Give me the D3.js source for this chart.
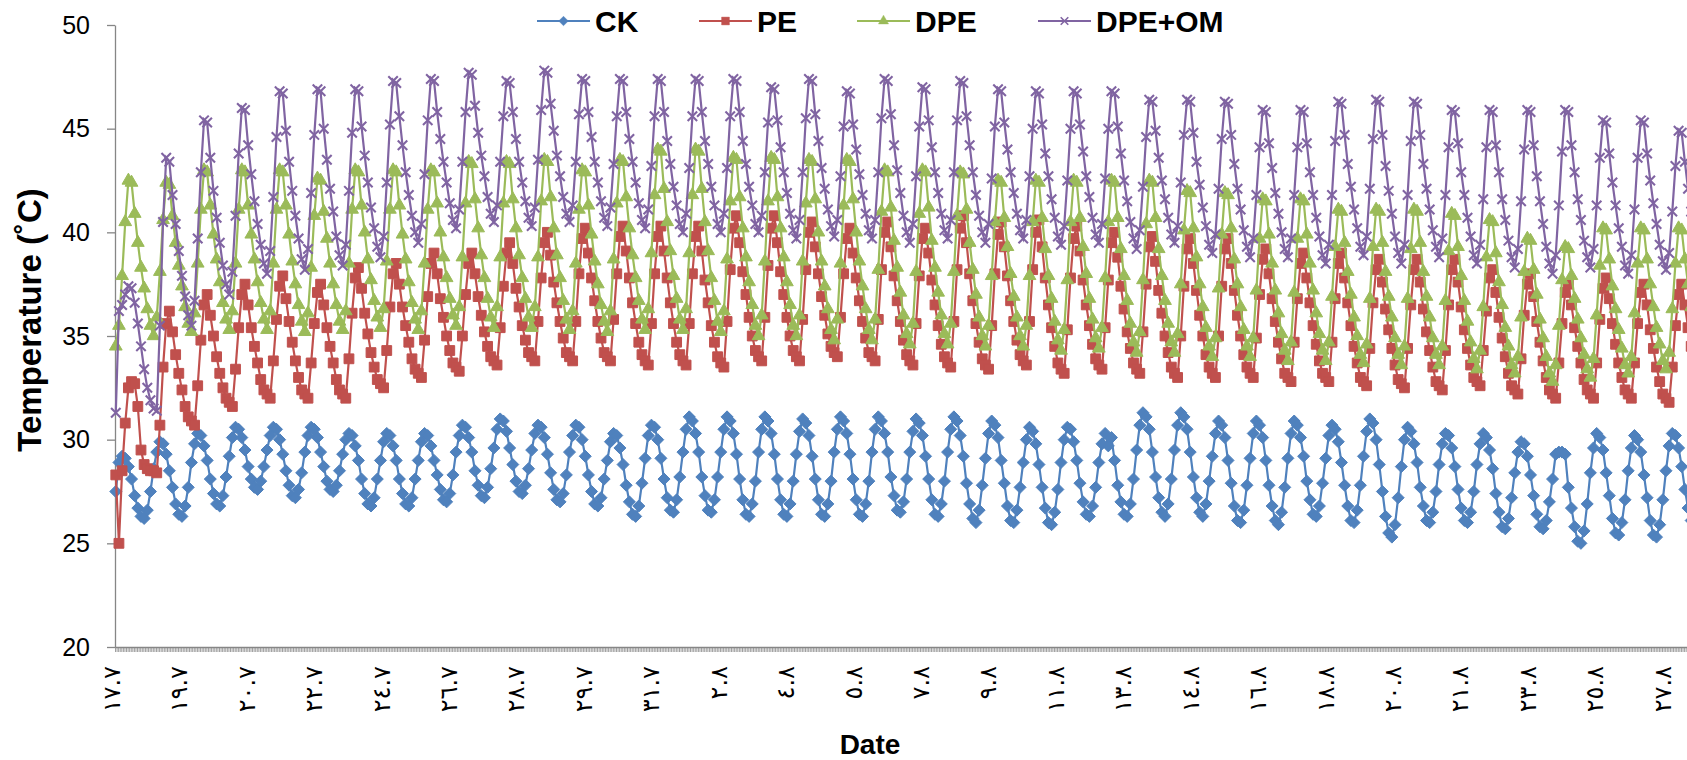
<!DOCTYPE html>
<html>
<head>
<meta charset="utf-8">
<script src="https://cdn.jsdelivr.net/npm/d3@7"></script>
<style>
  body { margin: 0; background: #fff; }
  svg { display: block; }
</style>
</head>
<body>
<svg width="1687" height="760"></svg>
<script>
// Soil temperature, one reading every 2 hours (12 per day), from 17.7 06:00
const stepHours = 2;

const ckTemps = [
  27.5, 28.9, 29.2, 29.1, 28.7, 28.1, 27.3, 26.7, 26.3, 26.2, 26.6, 27.5,
  28.6, 29.4, 29.9, 29.8, 29.3, 28.5, 27.7, 26.9, 26.4, 26.3, 26.8, 27.7,
  28.9, 29.8, 30.3, 30.2, 29.7, 29.0, 28.1, 27.4, 26.9, 26.8, 27.3, 28.2,
  29.2, 30.1, 30.6, 30.5, 30.1, 29.5, 28.7, 28.1, 27.7, 27.6, 28.0, 28.7,
  29.5, 30.2, 30.6, 30.5, 30.0, 29.3, 28.5, 27.8, 27.3, 27.2, 27.6, 28.4,
  29.4, 30.2, 30.6, 30.5, 30.1, 29.4, 28.7, 28.0, 27.6, 27.5, 27.8, 28.5,
  29.3, 30.0, 30.3, 30.2, 29.7, 29.0, 28.1, 27.4, 26.9, 26.8, 27.2, 28.1,
  29.0, 29.9, 30.3, 30.2, 29.7, 29.0, 28.1, 27.4, 26.9, 26.8, 27.2, 28.1,
  29.0, 29.9, 30.3, 30.2, 29.7, 29.0, 28.3, 27.6, 27.1, 27.0, 27.4, 28.3,
  29.4, 30.2, 30.7, 30.6, 30.1, 29.4, 28.5, 27.8, 27.3, 27.2, 27.7, 28.6,
  29.6, 30.5, 31.0, 30.9, 30.4, 29.6, 28.8, 28.0, 27.5, 27.4, 27.8, 28.6,
  29.5, 30.3, 30.7, 30.6, 30.1, 29.3, 28.4, 27.6, 27.1, 27.0, 27.4, 28.3,
  29.4, 30.2, 30.7, 30.6, 30.0, 29.2, 28.3, 27.5, 26.9, 26.8, 27.2, 28.1,
  29.0, 29.9, 30.3, 30.2, 29.6, 28.8, 27.8, 27.0, 26.4, 26.3, 26.8, 27.9,
  29.1, 30.2, 30.7, 30.6, 30.0, 29.1, 28.1, 27.2, 26.6, 26.5, 27.1, 28.2,
  29.4, 30.5, 31.1, 30.9, 30.3, 29.4, 28.2, 27.3, 26.6, 26.5, 27.1, 28.2,
  29.4, 30.5, 31.1, 30.9, 30.3, 29.3, 28.1, 27.1, 26.4, 26.3, 26.9, 28.0,
  29.4, 30.5, 31.1, 30.9, 30.3, 29.3, 28.1, 27.1, 26.4, 26.3, 26.9, 28.0,
  29.3, 30.4, 31.0, 30.8, 30.2, 29.2, 28.1, 27.1, 26.4, 26.3, 26.9, 28.0,
  29.4, 30.5, 31.1, 30.9, 30.3, 29.3, 28.1, 27.1, 26.4, 26.3, 26.9, 28.0,
  29.4, 30.5, 31.1, 30.9, 30.3, 29.4, 28.2, 27.3, 26.6, 26.5, 27.0, 28.1,
  29.4, 30.4, 31.0, 30.8, 30.2, 29.2, 28.1, 27.1, 26.4, 26.3, 26.9, 28.0,
  29.4, 30.5, 31.1, 30.9, 30.2, 29.2, 27.9, 26.9, 26.2, 26.0, 26.6, 27.8,
  29.1, 30.3, 30.9, 30.7, 30.1, 29.0, 27.9, 26.8, 26.1, 26.0, 26.6, 27.7,
  28.9, 30.0, 30.6, 30.4, 29.8, 28.8, 27.7, 26.7, 26.0, 25.9, 26.5, 27.6,
  28.9, 30.0, 30.6, 30.5, 29.9, 29.0, 27.9, 27.0, 26.4, 26.3, 26.8, 27.7,
  28.9, 29.8, 30.3, 29.7, 30.1, 29.0, 27.8, 27.0, 26.4, 26.3, 26.9, 28.1,
  29.5, 30.7, 31.3, 31.1, 30.5, 29.4, 28.2, 27.2, 26.5, 26.3, 26.9, 28.1,
  29.5, 30.7, 31.3, 31.1, 30.5, 29.4, 28.2, 27.2, 26.5, 26.3, 26.9, 28.0,
  29.2, 30.3, 30.9, 30.7, 30.1, 29.0, 27.9, 26.8, 26.1, 26.0, 26.6, 27.8,
  29.1, 30.3, 30.9, 30.7, 30.1, 29.0, 27.8, 26.8, 26.1, 25.9, 26.5, 27.7,
  29.1, 30.3, 30.9, 30.7, 30.1, 29.2, 28.0, 27.1, 26.4, 26.3, 26.8, 27.9,
  29.1, 30.2, 30.7, 30.5, 29.9, 28.9, 27.8, 26.8, 26.1, 26.0, 26.6, 27.8,
  29.2, 30.4, 31.0, 30.8, 30.0, 28.8, 27.5, 26.3, 25.5, 25.3, 25.9, 27.2,
  28.7, 30.0, 30.6, 30.4, 29.8, 28.9, 27.7, 26.8, 26.1, 26.0, 26.5, 27.5,
  28.8, 29.8, 30.3, 30.2, 29.6, 28.7, 27.6, 26.7, 26.1, 26.0, 26.5, 27.5,
  28.8, 29.8, 30.3, 30.1, 29.5, 28.6, 27.4, 26.5, 25.8, 25.7, 26.2, 27.2,
  28.4, 29.4, 29.9, 29.8, 29.2, 28.3, 27.3, 26.4, 25.8, 25.7, 26.1, 27.0,
  28.1, 29.3, 29.4, 29.4, 29.3, 27.7, 26.7, 25.8, 25.1, 25.0, 25.6, 26.9,
  28.4, 29.6, 30.3, 30.1, 29.5, 28.4, 27.3, 26.2, 25.5, 25.4, 26.0, 27.1,
  28.5, 29.6, 30.2, 30.0, 29.4, 28.3, 27.2, 26.1, 25.4, 25.3, 25.9, 27.1,
  28.5, 29.7, 30.3, 30.2, 29.6, 28.7, 27.6, 26.7, 26.1, 26.0, 26.5, 27.5
];

const peTemps = [
  28.3, 25.0, 28.5, 30.8, 32.5, 32.8, 32.7, 31.6, 29.5, 28.8, 28.6, 28.5,
  28.5, 28.4, 30.7, 33.5, 35.6, 36.2, 35.2, 34.1, 33.2, 32.4, 31.6, 31.1,
  30.9, 30.7, 32.6, 34.8, 36.5, 37.0, 36.0, 35.0, 34.0, 33.2, 32.5, 32.0,
  31.8, 31.6, 33.4, 35.4, 37.0, 37.5, 36.5, 35.4, 34.5, 33.7, 32.9, 32.4,
  32.2, 32.0, 33.8, 35.8, 37.4, 37.9, 36.8, 35.7, 34.7, 33.8, 33.0, 32.4,
  32.2, 32.0, 33.7, 35.6, 37.1, 37.5, 36.5, 35.4, 34.5, 33.7, 32.9, 32.4,
  32.2, 32.0, 33.9, 36.1, 37.8, 38.3, 37.3, 36.1, 35.1, 34.2, 33.5, 32.9,
  32.7, 32.5, 34.3, 36.4, 38.0, 38.5, 37.5, 36.4, 35.5, 34.7, 33.9, 33.4,
  33.2, 33.0, 34.8, 36.9, 38.5, 39.0, 38.0, 36.8, 35.9, 35.0, 34.3, 33.7,
  33.5, 33.3, 35.0, 37.0, 38.5, 39.0, 38.0, 36.9, 36.0, 35.2, 34.5, 34.0,
  33.8, 33.6, 35.4, 37.4, 39.0, 39.5, 38.5, 37.3, 36.4, 35.5, 34.8, 34.2,
  34.0, 33.8, 35.7, 37.8, 39.5, 40.0, 38.9, 37.6, 36.6, 35.7, 34.9, 34.2,
  34.0, 33.8, 35.7, 38.0, 39.7, 40.2, 39.0, 37.8, 36.7, 35.7, 34.9, 34.2,
  34.0, 33.8, 35.8, 38.0, 39.8, 40.3, 39.1, 37.8, 36.6, 35.6, 34.7, 34.1,
  33.8, 33.6, 35.6, 38.0, 39.8, 40.3, 39.1, 37.8, 36.6, 35.6, 34.7, 34.1,
  33.8, 33.6, 35.6, 38.0, 39.8, 40.3, 39.1, 37.7, 36.6, 35.5, 34.7, 34.0,
  33.7, 33.5, 35.7, 38.2, 40.2, 40.8, 39.5, 38.1, 37.0, 35.9, 35.0, 34.3,
  34.0, 33.8, 35.9, 38.4, 40.2, 40.8, 39.5, 38.1, 37.0, 35.9, 35.0, 34.3,
  34.0, 33.8, 35.8, 38.2, 40.0, 40.5, 39.3, 38.0, 36.9, 36.0, 35.1, 34.5,
  34.2, 34.0, 35.9, 38.0, 39.7, 40.2, 39.0, 37.8, 36.7, 35.7, 34.9, 34.2,
  34.0, 33.8, 35.8, 38.2, 40.0, 40.5, 39.3, 37.9, 36.7, 35.7, 34.8, 34.1,
  33.8, 33.6, 35.6, 37.9, 39.7, 40.2, 39.0, 37.7, 36.5, 35.5, 34.6, 34.0,
  33.7, 33.5, 35.7, 38.2, 40.2, 40.8, 39.5, 38.0, 36.7, 35.6, 34.7, 33.9,
  33.6, 33.4, 35.5, 38.0, 39.9, 40.5, 39.3, 37.9, 36.7, 35.7, 34.8, 34.1,
  33.8, 33.6, 35.7, 38.2, 40.0, 40.6, 39.3, 37.8, 36.5, 35.4, 34.5, 33.7,
  33.4, 33.2, 35.3, 37.8, 39.7, 40.3, 39.1, 37.7, 36.5, 35.5, 34.6, 33.9,
  33.6, 33.4, 35.4, 37.7, 39.5, 40.0, 38.8, 37.4, 36.3, 35.2, 34.4, 33.7,
  33.4, 33.2, 35.2, 37.5, 39.3, 39.8, 38.6, 37.2, 36.1, 35.0, 34.2, 33.5,
  33.2, 33.0, 35.0, 37.4, 39.2, 39.7, 38.5, 37.2, 36.0, 35.0, 34.1, 33.5,
  33.2, 33.0, 35.0, 37.4, 39.2, 39.7, 38.5, 37.2, 36.0, 35.0, 34.1, 33.5,
  33.2, 33.0, 34.9, 37.0, 38.7, 39.2, 38.0, 36.8, 35.7, 34.7, 33.9, 33.2,
  33.0, 32.8, 34.7, 36.8, 38.5, 39.0, 37.8, 36.6, 35.5, 34.6, 33.8, 33.2,
  33.0, 32.8, 34.7, 36.8, 38.5, 39.0, 37.8, 36.6, 35.5, 34.5, 33.7, 33.0,
  32.8, 32.6, 34.4, 36.6, 38.2, 38.7, 37.6, 36.3, 35.3, 34.4, 33.6, 32.9,
  32.7, 32.5, 34.4, 36.5, 38.2, 38.7, 37.6, 36.3, 35.2, 34.3, 33.5, 32.8,
  32.6, 32.4, 34.3, 36.5, 38.2, 38.7, 37.6, 36.4, 35.3, 34.4, 33.6, 33.0,
  32.8, 32.6, 34.3, 36.2, 37.8, 38.2, 37.1, 35.9, 34.9, 34.0, 33.2, 32.6,
  32.4, 32.2, 33.9, 36.0, 37.5, 38.0, 36.9, 35.7, 34.7, 33.8, 33.0, 32.4,
  32.2, 32.0, 33.7, 35.6, 37.1, 37.5, 36.5, 35.4, 34.5, 33.7, 32.9, 32.4,
  32.2, 32.0, 33.7, 35.8, 37.3, 37.8, 36.8, 35.6, 34.6, 33.7, 33.0, 32.4,
  32.2, 32.0, 33.7, 35.6, 37.1, 37.5, 36.5, 35.3, 34.4, 33.5, 32.8, 32.2,
  32.0, 31.8, 33.5, 35.5, 37.0, 37.5, 36.5, 35.4, 34.5, 33.7, 32.9, 32.4
];

const dpeTemps = [
  34.5, 35.5, 37.9, 40.5, 42.5, 42.4, 40.9, 39.5, 38.3, 37.3, 36.3, 35.5,
  35.0, 35.9, 38.1, 40.6, 42.4, 42.3, 40.8, 39.5, 38.4, 37.4, 36.4, 35.6,
  35.2, 36.1, 38.5, 41.1, 43.0, 42.9, 41.3, 39.9, 38.7, 37.6, 36.6, 35.8,
  35.3, 36.2, 38.5, 41.1, 43.0, 42.9, 41.3, 39.9, 38.7, 37.6, 36.6, 35.8,
  35.3, 36.2, 38.5, 41.1, 43.0, 42.9, 41.3, 39.9, 38.6, 37.5, 36.5, 35.7,
  35.2, 36.1, 38.3, 40.8, 42.6, 42.5, 41.0, 39.7, 38.5, 37.5, 36.5, 35.7,
  35.3, 36.2, 38.5, 41.1, 43.0, 42.9, 41.3, 40.0, 38.7, 37.7, 36.7, 35.9,
  35.4, 36.3, 38.6, 41.1, 43.0, 42.9, 41.3, 39.9, 38.7, 37.6, 36.6, 35.8,
  35.3, 36.2, 38.5, 41.1, 43.0, 42.9, 41.4, 40.0, 38.8, 37.8, 36.8, 36.0,
  35.5, 36.4, 38.8, 41.4, 43.4, 43.3, 41.6, 40.2, 38.9, 37.8, 36.8, 35.9,
  35.4, 36.4, 38.8, 41.4, 43.4, 43.3, 41.6, 40.2, 38.9, 37.8, 36.8, 35.9,
  35.4, 36.4, 38.8, 41.5, 43.5, 43.4, 41.7, 40.2, 38.9, 37.8, 36.7, 35.8,
  35.3, 36.2, 38.5, 41.1, 43.0, 42.9, 41.3, 39.9, 38.6, 37.5, 36.5, 35.7,
  35.2, 36.2, 38.7, 41.4, 43.5, 43.4, 41.7, 40.2, 38.9, 37.8, 36.7, 35.8,
  35.3, 36.3, 39.0, 41.8, 44.0, 43.9, 42.1, 40.5, 39.1, 37.9, 36.8, 35.8,
  35.3, 36.3, 39.0, 41.8, 44.0, 43.9, 42.1, 40.5, 39.1, 37.8, 36.7, 35.7,
  35.2, 36.2, 38.7, 41.5, 43.6, 43.5, 41.7, 40.2, 38.8, 37.6, 36.5, 35.5,
  35.0, 36.0, 38.6, 41.5, 43.6, 43.5, 41.7, 40.2, 38.8, 37.6, 36.5, 35.5,
  35.0, 36.0, 38.6, 41.4, 43.5, 43.4, 41.6, 40.0, 38.6, 37.4, 36.3, 35.3,
  34.8, 35.8, 38.5, 41.3, 43.5, 43.4, 41.6, 40.0, 38.6, 37.4, 36.3, 35.3,
  34.8, 35.8, 38.2, 41.0, 43.0, 42.9, 41.2, 39.6, 38.3, 37.1, 36.0, 35.1,
  34.6, 35.6, 38.1, 40.9, 43.0, 42.9, 41.2, 39.6, 38.3, 37.1, 36.0, 35.1,
  34.6, 35.6, 38.1, 40.8, 42.9, 42.8, 41.1, 39.5, 38.2, 37.0, 35.9, 35.0,
  34.5, 35.5, 37.9, 40.5, 42.5, 42.4, 40.7, 39.3, 38.0, 36.9, 35.9, 35.0,
  34.5, 35.5, 37.9, 40.5, 42.5, 42.4, 40.7, 39.2, 37.9, 36.8, 35.7, 34.8,
  34.3, 35.3, 37.7, 40.5, 42.5, 42.4, 40.7, 39.3, 38.0, 36.8, 35.8, 34.9,
  34.4, 35.4, 37.8, 40.5, 42.5, 42.4, 40.7, 39.2, 37.9, 36.7, 35.6, 34.7,
  34.2, 35.2, 37.7, 40.4, 42.5, 42.4, 40.7, 39.2, 37.9, 36.7, 35.6, 34.7,
  34.2, 35.1, 37.5, 40.1, 42.0, 41.9, 40.2, 38.8, 37.5, 36.4, 35.4, 34.5,
  34.0, 34.9, 37.3, 39.9, 41.9, 41.8, 40.2, 38.7, 37.5, 36.4, 35.3, 34.5,
  34.0, 34.9, 37.2, 39.7, 41.6, 41.5, 39.9, 38.5, 37.2, 36.1, 35.1, 34.3,
  33.8, 34.7, 37.1, 39.7, 41.6, 41.5, 39.9, 38.5, 37.2, 36.1, 35.1, 34.3,
  33.8, 34.7, 36.9, 39.3, 41.1, 41.0, 39.5, 38.1, 37.0, 35.9, 35.0, 34.1,
  33.7, 34.6, 36.8, 39.3, 41.1, 41.0, 39.5, 38.1, 36.9, 35.9, 34.9, 34.1,
  33.6, 34.5, 36.8, 39.2, 41.1, 41.0, 39.5, 38.1, 36.9, 35.9, 34.9, 34.1,
  33.6, 34.5, 36.7, 39.1, 40.9, 40.8, 39.3, 37.9, 36.7, 35.7, 34.7, 33.9,
  33.4, 34.3, 36.4, 38.8, 40.6, 40.5, 39.0, 37.6, 36.5, 35.4, 34.5, 33.6,
  33.2, 34.0, 35.9, 38.1, 39.7, 39.6, 38.2, 37.0, 35.8, 34.9, 34.0, 33.2,
  32.8, 33.6, 35.5, 37.7, 39.3, 39.2, 37.9, 36.8, 35.8, 34.9, 34.1, 33.4,
  33.0, 33.9, 36.0, 38.4, 40.2, 40.1, 38.7, 37.4, 36.3, 35.3, 34.4, 33.6,
  33.2, 34.0, 36.1, 38.5, 40.2, 40.1, 38.7, 37.5, 36.4, 35.4, 34.6, 33.8,
  33.4, 34.2, 36.3, 38.5, 40.2, 40.1, 38.7, 37.5, 36.4, 35.4, 34.6, 33.8
];

const dpeOmTemps = [
  31.3, 36.2, 36.5, 37.0, 37.4, 37.3, 36.6, 35.6, 34.5, 33.4, 32.5, 31.9,
  31.5, 31.4, 35.5, 40.5, 43.6, 43.4, 41.8, 40.4, 39.1, 37.9, 36.9, 36.0,
  35.5, 36.7, 39.7, 42.9, 45.4, 45.3, 43.6, 42.0, 40.7, 39.5, 38.4, 37.5,
  37.0, 38.1, 40.8, 43.8, 46.0, 45.9, 44.2, 42.8, 41.5, 40.4, 39.4, 38.5,
  38.0, 39.1, 41.7, 44.6, 46.8, 46.7, 44.9, 43.4, 42.0, 40.8, 39.7, 38.7,
  38.2, 39.2, 41.9, 44.7, 46.9, 46.8, 45.0, 43.5, 42.1, 41.0, 39.8, 38.9,
  38.4, 39.4, 42.0, 44.8, 46.9, 46.8, 45.1, 43.7, 42.4, 41.2, 40.2, 39.3,
  38.8, 39.8, 42.4, 45.2, 47.3, 47.2, 45.6, 44.2, 42.9, 41.8, 40.8, 40.0,
  39.5, 40.4, 42.8, 45.4, 47.4, 47.3, 45.8, 44.5, 43.4, 42.4, 41.4, 40.6,
  40.2, 41.1, 43.4, 45.8, 47.7, 47.6, 46.1, 44.8, 43.7, 42.7, 41.7, 40.9,
  40.5, 41.3, 43.4, 45.6, 47.3, 47.2, 45.8, 44.5, 43.4, 42.4, 41.5, 40.7,
  40.3, 41.2, 43.5, 45.9, 47.8, 47.7, 46.2, 44.9, 43.7, 42.7, 41.7, 40.9,
  40.5, 41.3, 43.4, 45.7, 47.4, 47.3, 45.8, 44.6, 43.4, 42.4, 41.5, 40.7,
  40.3, 41.2, 43.3, 45.6, 47.4, 47.3, 45.8, 44.5, 43.4, 42.4, 41.4, 40.6,
  40.2, 41.1, 43.2, 45.6, 47.4, 47.3, 45.8, 44.4, 43.3, 42.2, 41.3, 40.4,
  40.0, 40.9, 43.1, 45.6, 47.4, 47.3, 45.8, 44.4, 43.3, 42.2, 41.3, 40.4,
  40.0, 40.9, 43.1, 45.6, 47.4, 47.3, 45.8, 44.4, 43.3, 42.2, 41.3, 40.4,
  40.0, 40.8, 42.9, 45.3, 47.0, 46.9, 45.4, 44.1, 42.9, 41.9, 40.9, 40.1,
  39.7, 40.6, 42.9, 45.5, 47.4, 47.3, 45.7, 44.4, 43.1, 42.1, 41.1, 40.3,
  39.8, 40.6, 42.7, 45.1, 46.8, 46.7, 45.2, 44.0, 42.8, 41.8, 40.9, 40.1,
  39.7, 40.6, 42.9, 45.5, 47.4, 47.3, 45.7, 44.2, 43.0, 41.9, 40.8, 40.0,
  39.5, 40.4, 42.7, 45.1, 47.0, 46.9, 45.4, 44.1, 42.9, 41.9, 40.9, 40.1,
  39.7, 40.6, 42.9, 45.4, 47.3, 47.2, 45.6, 44.2, 42.9, 41.8, 40.8, 40.0,
  39.5, 40.4, 42.6, 45.1, 46.9, 46.8, 45.3, 44.0, 42.9, 41.9, 40.9, 40.1,
  39.7, 40.6, 42.7, 45.0, 46.8, 46.7, 45.2, 43.8, 42.7, 41.6, 40.7, 39.8,
  39.4, 40.3, 42.5, 45.0, 46.8, 46.7, 45.2, 43.9, 42.7, 41.7, 40.7, 39.9,
  39.5, 40.4, 42.6, 45.0, 46.8, 46.7, 45.1, 43.8, 42.5, 41.5, 40.5, 39.7,
  39.2, 40.1, 42.2, 44.6, 46.4, 46.3, 44.9, 43.6, 42.5, 41.6, 40.7, 39.9,
  39.5, 40.3, 42.4, 44.7, 46.4, 46.3, 44.8, 43.4, 42.3, 41.2, 40.3, 39.4,
  39.0, 39.9, 42.1, 44.5, 46.3, 46.2, 44.7, 43.3, 42.1, 41.1, 40.1, 39.3,
  38.8, 39.7, 41.8, 44.1, 45.9, 45.8, 44.3, 43.1, 41.9, 40.9, 40.0, 39.2,
  38.8, 39.7, 41.8, 44.1, 45.9, 45.8, 44.3, 42.9, 41.8, 40.7, 39.8, 38.9,
  38.5, 39.4, 41.8, 44.4, 46.3, 46.2, 44.7, 43.3, 42.2, 41.1, 40.2, 39.3,
  38.9, 39.8, 42.1, 44.5, 46.4, 46.3, 44.7, 43.2, 42.0, 40.9, 39.8, 39.0,
  38.5, 39.4, 41.8, 44.4, 46.3, 46.2, 44.7, 43.3, 42.1, 41.1, 40.1, 39.3,
  38.8, 39.7, 41.8, 44.1, 45.9, 45.8, 44.3, 42.9, 41.8, 40.7, 39.8, 38.9,
  38.5, 39.4, 41.6, 44.1, 45.9, 45.8, 44.2, 42.9, 41.6, 40.6, 39.6, 38.8,
  38.3, 39.2, 41.5, 44.0, 45.9, 45.8, 44.2, 42.7, 41.5, 40.4, 39.3, 38.5,
  38.0, 38.9, 41.3, 43.9, 45.9, 45.8, 44.2, 42.9, 41.6, 40.6, 39.6, 38.8,
  38.3, 39.2, 41.3, 43.6, 45.4, 45.3, 43.8, 42.4, 41.3, 40.2, 39.3, 38.4,
  38.0, 38.9, 41.1, 43.6, 45.4, 45.3, 43.8, 42.5, 41.4, 40.4, 39.4, 38.6,
  38.2, 39.0, 41.0, 43.2, 44.9, 44.8, 43.4, 42.1, 41.0, 40.1, 39.2, 38.4
];

// date labels shown on the category axis (one every ~42.8 hours)
const dateLabels = ["١٧.٧", "١٩.٧", "٢٠.٧", "٢٢.٧", "٢٤.٧", "٢٦.٧", "٢٨.٧", "٢٩.٧",
  "٣١.٧", "٢.٨", "٤.٨", "٥.٨", "٧.٨", "٩.٨", "١١.٨", "١٣.٨", "١٤.٨", "١٦.٨",
  "١٨.٨", "٢٠.٨", "٢١.٨", "٢٣.٨", "٢٥.٨", "٢٧.٨"];
const labelStepHours = 42.8;
const yTicks = [20, 25, 30, 35, 40, 45, 50];

const seriesNames = ["CK", "PE", "DPE", "DPE+OM"];
const seriesColors = ["#4F81BD", "#C0504D", "#9BBB59", "#8064A2"];

// custom marker shapes
const symDiamond = { draw(ctx, size) { const r = Math.sqrt(size / 2); ctx.moveTo(0, -r); ctx.lineTo(r, 0); ctx.lineTo(0, r); ctx.lineTo(-r, 0); ctx.closePath(); } };
const symTimes = { draw(ctx, size) { const r = Math.sqrt(size) / 2; ctx.moveTo(-r, -r); ctx.lineTo(r, r); ctx.moveTo(r, -r); ctx.lineTo(-r, r); } };

const series = [
  { name: seriesNames[0], values: ckTemps, color: seriesColors[0], symbol: d3.symbol(symDiamond, 72)(), fill: true },
  { name: seriesNames[1], values: peTemps, color: seriesColors[1], symbol: d3.symbol(d3.symbolSquare, 96)(), fill: true },
  { name: seriesNames[2], values: dpeTemps, color: seriesColors[2], symbol: d3.symbol(d3.symbolTriangle, 70)(), fill: true },
  { name: seriesNames[3], values: dpeOmTemps, color: seriesColors[3], symbol: d3.symbol(symTimes, 90)(), fill: false }
];

const svg = d3.select("svg");
const axisGray = "#868686";
const font = "'Liberation Sans', Arial, sans-serif";
const plot = { left: 115, top: 25, bottom: 647 };
const pxPerHour = 1.5754;
const totalHours = ckTemps.length * stepHours;

const x = d3.scaleLinear()
    .domain([-0.5, totalHours - 0.5])
    .range([plot.left, plot.left + totalHours * pxPerHour]);
const y = d3.scaleLinear().domain([20, 50]).range([plot.bottom, plot.top]);

// y axis
const yAxis = svg.append("g")
    .attr("transform", `translate(${plot.left},0)`)
    .call(d3.axisLeft(y).tickValues(yTicks).tickSize(8).tickSizeOuter(0).tickPadding(17));
yAxis.select(".domain").attr("stroke", axisGray).attr("stroke-width", 1.3);
yAxis.selectAll(".tick line").attr("stroke", axisGray).attr("stroke-width", 1.3);
yAxis.selectAll("text").attr("font-family", font).attr("font-size", 25).attr("fill", "#000");

// x axis: one small tick per hour
const xAxis = svg.append("g")
    .attr("transform", `translate(0,${plot.bottom})`)
    .call(d3.axisBottom(x).tickValues(d3.range(-0.5, totalHours, 1)).tickSize(5).tickSizeOuter(0).tickFormat(""));
xAxis.select(".domain").attr("stroke", axisGray).attr("stroke-width", 1.3);
xAxis.selectAll(".tick line").attr("stroke", axisGray).attr("stroke-width", 0.8);

// date labels
const labelAxis = svg.append("g")
    .attr("transform", `translate(0,${plot.bottom})`)
    .call(d3.axisBottom(x)
        .tickValues(dateLabels.map((d, i) => i * labelStepHours))
        .tickFormat((d, i) => dateLabels[i])
        .tickSize(0).tickPadding(0));
labelAxis.select(".domain").remove();
labelAxis.selectAll("text")
    .attr("transform", "rotate(-90)")
    .attr("text-anchor", "end")
    .attr("x", -19)
    .attr("y", 0)
    .attr("dy", "0.15em")
    .attr("font-family", "'DejaVu Sans', sans-serif")
    .attr("font-size", 24)
    .attr("fill", "#000");

// series
const line = d3.line().x((d, i) => x(i * stepHours)).y(d => y(d));
series.forEach(s => {
    const g = svg.append("g");
    g.append("path")
        .attr("d", line(s.values))
        .attr("fill", "none")
        .attr("stroke", s.color)
        .attr("stroke-width", 2.2);
    g.selectAll("path.marker")
        .data(s.values)
        .join("path")
        .attr("class", "marker")
        .attr("d", s.symbol)
        .attr("transform", (d, i) => `translate(${x(i * stepHours)},${y(d)})`)
        .attr("fill", s.fill ? s.color : "none")
        .attr("stroke", s.color)
        .attr("stroke-width", s.fill ? 1 : 2.1);
});

// legend
const legendX = [537, 699, 857, 1038];
const legend = svg.append("g");
series.forEach((s, i) => {
    const lg = legend.append("g").attr("transform", `translate(${legendX[i]},21)`);
    lg.append("line").attr("x1", 0).attr("x2", 53).attr("stroke", s.color).attr("stroke-width", 2);
    lg.append("path").attr("d", s.symbol).attr("transform", "translate(26.5,0) scale(0.8)")
        .attr("fill", s.fill ? s.color : "none").attr("stroke", s.color).attr("stroke-width", s.fill ? 0.5 : 2);
    lg.append("text").attr("x", 58).attr("y", 11)
        .attr("font-family", font).attr("font-weight", "bold").attr("font-size", 30)
        .text(s.name);
});

// axis titles
svg.append("text")
    .attr("transform", "translate(41,320) rotate(-90)")
    .attr("text-anchor", "middle")
    .attr("font-family", font).attr("font-weight", "bold").attr("font-size", 33)
    .text("Temperature (˚C)");
svg.append("text")
    .attr("x", 870).attr("y", 754)
    .attr("text-anchor", "middle")
    .attr("font-family", font).attr("font-weight", "bold").attr("font-size", 28)
    .text("Date");
</script>
</body>
</html>
